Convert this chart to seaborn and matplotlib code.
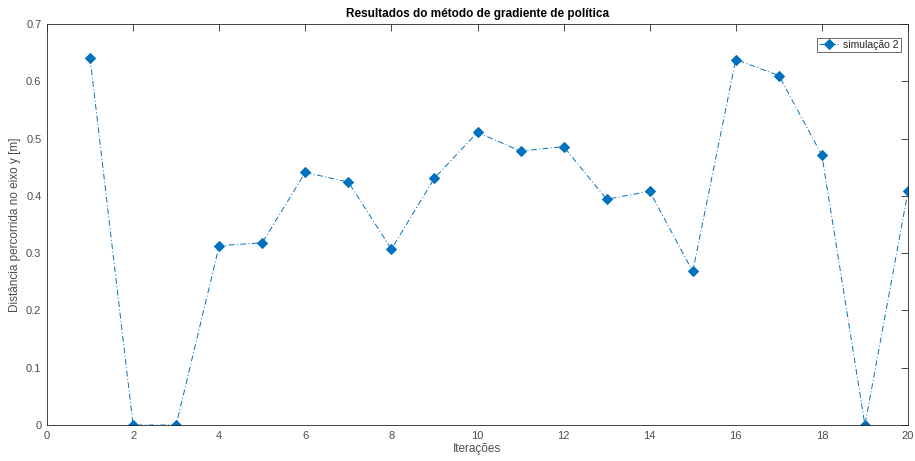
import matplotlib
matplotlib.use("Agg")
import matplotlib.pyplot as plt
import seaborn as sns
import pandas as pd

iteracoes = list(range(1, 21))
distancia = [0.641, 0.0, 0.0, 0.313, 0.318, 0.441, 0.424, 0.307, 0.431, 0.511,
             0.478, 0.486, 0.394, 0.408, 0.268, 0.638, 0.610, 0.471, 0.0, 0.408]
serie = "simulação 2"

sns.set_style("white")
plt.rcParams['font.family'] = ['Liberation Sans', 'DejaVu Sans']

df = pd.DataFrame({"x": iteracoes, "y": distancia, "s": serie})

fig = plt.figure(figsize=(9.15, 4.61), dpi=100)
ax = fig.add_axes([47/915, 1 - 425/461, (908-47)/915, (425-24)/461])
sns.lineplot(data=df, x="x", y="y", hue="s", palette=["#0072BD"], ax=ax,
             linestyle="-.", linewidth=0.7, marker="D", markersize=5,
             markeredgecolor="#0072BD", dashes=False)
ax.lines[0].set_linestyle((0, (6, 2.5, 1, 2.5)))

ax.set_xlim(0, 20)
ax.set_ylim(0, 0.7)
ax.set_xticks(range(0, 21, 2))
ax.set_yticks([i/10 for i in range(8)])
ax.set_yticklabels(["0", "0.1", "0.2", "0.3", "0.4", "0.5", "0.6", "0.7"])
ax.tick_params(direction="in", length=5, width=0.6, top=True, right=True,
               labelsize=8, colors="#262626", labelcolor="#4d4d4d", pad=4)
for sp in ax.spines.values():
    sp.set_visible(True)
    sp.set_color("#262626")
    sp.set_linewidth(0.6)
ax.set_xlabel("Iterações", fontsize=8.5, color="#4d4d4d", labelpad=2)
ax.set_ylabel("Distância percorrida no eixo y [m]", fontsize=8.5, color="#4d4d4d", labelpad=4)
ax.set_title("Resultados do método de gradiente de política", fontsize=8.5,
             fontweight="bold", color="black", pad=5)
leg = ax.legend(loc="upper right", fontsize=7.5, frameon=True, fancybox=False,
                edgecolor="#262626", borderpad=0.2, handlelength=1.8,
                handletextpad=0.5, borderaxespad=0,
                bbox_to_anchor=((901-47)/861, (425-38)/401))
leg.get_frame().set_linewidth(0.6)
for t in leg.get_texts():
    t.set_color("#262626")

fig.savefig("out.png", dpi=100)
